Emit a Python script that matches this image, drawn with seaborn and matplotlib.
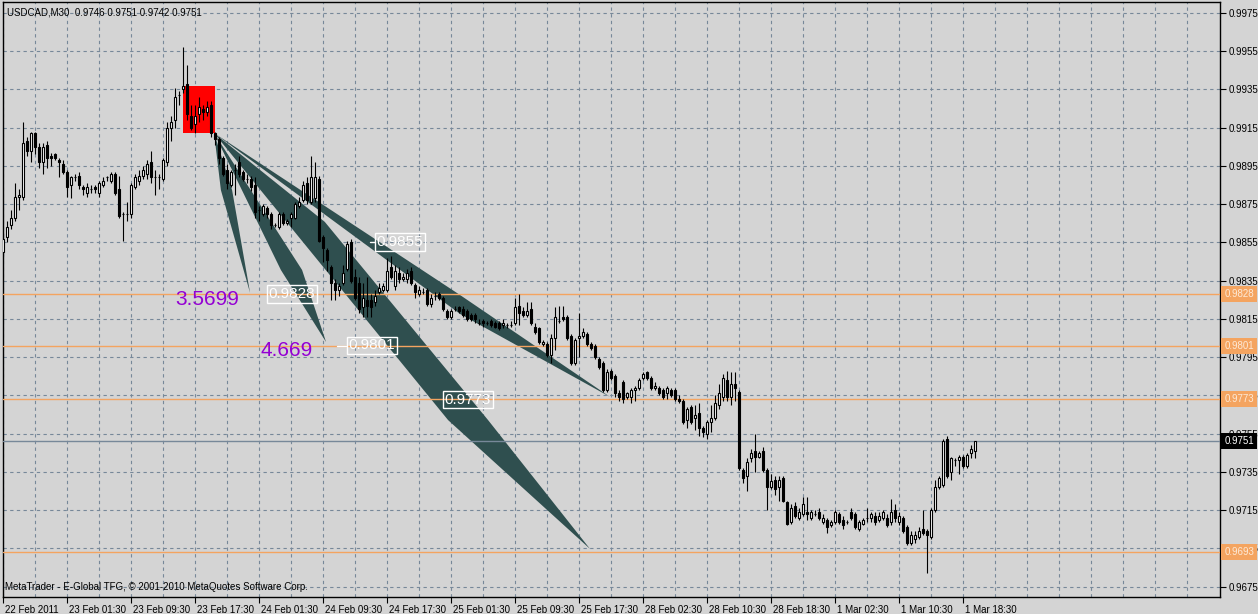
import numpy as np
import pandas as pd
import matplotlib
matplotlib.use('Agg')
import matplotlib.pyplot as plt
import matplotlib.transforms as mtransforms
from matplotlib.patches import Polygon, Rectangle
import seaborn as sns

# velas M30 USDCAD (open, high, low, close), uma por barra
opens = [0.9850, 0.9858, 0.9864, 0.9868, 0.9879, 0.9879, 0.9908, 0.9903, 0.9912, 0.9905,
         0.9897, 0.9906, 0.9900, 0.9901, 0.9898, 0.9896, 0.9892, 0.9885, 0.9889, 0.9890,
         0.9884, 0.9881, 0.9883, 0.9884, 0.9881, 0.9885, 0.9889, 0.9887, 0.9891, 0.9883,
         0.9870, 0.9870, 0.9870, 0.9884, 0.9887, 0.9890, 0.9891, 0.9897, 0.9889, 0.9889,
         0.9888, 0.9897, 0.9915, 0.9919, 0.9932, 0.9935, 0.9938, 0.9921, 0.9917, 0.9922,
         0.9925, 0.9923, 0.9927, 0.9912, 0.9909, 0.9899, 0.9893, 0.9885, 0.9893, 0.9897,
         0.9892, 0.9888, 0.9888, 0.9885, 0.9872, 0.9870, 0.9873, 0.9870, 0.9864, 0.9863,
         0.9870, 0.9865, 0.9868, 0.9868, 0.9874, 0.9877, 0.9886, 0.9876, 0.9878, 0.9888,
         0.9858, 0.9851, 0.9842, 0.9834, 0.9830, 0.9834, 0.9841, 0.9855, 0.9837, 0.9834,
         0.9821, 0.9825, 0.9825, 0.9824, 0.9829, 0.9830, 0.9830, 0.9842, 0.9832, 0.9839,
         0.9836, 0.9836, 0.9840, 0.9833, 0.9828, 0.9829, 0.9830, 0.9823, 0.9827, 0.9828,
         0.9826, 0.9819, 0.9816, 0.9820, 0.9821, 0.9820, 0.9819, 0.9817, 0.9817, 0.9813,
         0.9814, 0.9813, 0.9814, 0.9813, 0.9813, 0.9812, 0.9812, 0.9812, 0.9813, 0.9822,
         0.9819, 0.9817, 0.9820, 0.9811, 0.9810, 0.9802, 0.9802, 0.9796, 0.9805, 0.9814,
         0.9816, 0.9816, 0.9806, 0.9792, 0.9805, 0.9806, 0.9807, 0.9802, 0.9801, 0.9794,
         0.9792, 0.9778, 0.9788, 0.9785, 0.9776, 0.9782, 0.9774, 0.9774, 0.9778, 0.9779,
         0.9784, 0.9787, 0.9784, 0.9779, 0.9779, 0.9778, 0.9776, 0.9778, 0.9778, 0.9773,
         0.9772, 0.9762, 0.9769, 0.9763, 0.9766, 0.9758, 0.9755, 0.9761, 0.9763, 0.9770,
         0.9774, 0.9783, 0.9774, 0.9781, 0.9777, 0.9736, 0.9733, 0.9742, 0.9746, 0.9743,
         0.9746, 0.9736, 0.9727, 0.9731, 0.9727, 0.9732, 0.9719, 0.9709, 0.9717, 0.9711,
         0.9713, 0.9714, 0.9711, 0.9713, 0.9714, 0.9709, 0.9710, 0.9707, 0.9709, 0.9713,
         0.9710, 0.9709, 0.9714, 0.9713, 0.9705, 0.9708, 0.9711, 0.9711, 0.9712, 0.9710,
         0.9711, 0.9711, 0.9709, 0.9715, 0.9709, 0.9711, 0.9706, 0.9698, 0.9700, 0.9701,
         0.9705, 0.9704, 0.9701, 0.9715, 0.9727, 0.9728, 0.9752, 0.9735, 0.9741, 0.9741,
         0.9743, 0.9738, 0.9745, 0.9746]
highs = [0.9860, 0.9866, 0.9872, 0.9886, 0.9883, 0.9918, 0.9910, 0.9913, 0.9913, 0.9907,
         0.9907, 0.9908, 0.9902, 0.9902, 0.9899, 0.9898, 0.9893, 0.9890, 0.9891, 0.9892,
         0.9885, 0.9886, 0.9885, 0.9885, 0.9887, 0.9889, 0.9890, 0.9892, 0.9892, 0.9890,
         0.9871, 0.9876, 0.9886, 0.9891, 0.9893, 0.9895, 0.9898, 0.9903, 0.9893, 0.9891,
         0.9899, 0.9918, 0.9921, 0.9936, 0.9934, 0.9957, 0.9948, 0.9927, 0.9927, 0.9931,
         0.9927, 0.9929, 0.9929, 0.9913, 0.9910, 0.9900, 0.9896, 0.9893, 0.9896, 0.9900,
         0.9893, 0.9891, 0.9890, 0.9889, 0.9874, 0.9875, 0.9874, 0.9871, 0.9865, 0.9871,
         0.9871, 0.9867, 0.9871, 0.9876, 0.9879, 0.9887, 0.9889, 0.9900, 0.9897, 0.9890,
         0.9859, 0.9852, 0.9843, 0.9836, 0.9834, 0.9843, 0.9856, 0.9857, 0.9841, 0.9837,
         0.9834, 0.9837, 0.9828, 0.9830, 0.9834, 0.9834, 0.9847, 0.9848, 0.9843, 0.9842,
         0.9839, 0.9841, 0.9842, 0.9834, 0.9832, 0.9831, 0.9831, 0.9828, 0.9829, 0.9829,
         0.9827, 0.9820, 0.9820, 0.9822, 0.9822, 0.9822, 0.9820, 0.9818, 0.9818, 0.9815,
         0.9815, 0.9814, 0.9815, 0.9814, 0.9814, 0.9815, 0.9813, 0.9814, 0.9826, 0.9828,
         0.9821, 0.9824, 0.9824, 0.9813, 0.9811, 0.9804, 0.9803, 0.9807, 0.9821, 0.9822,
         0.9822, 0.9817, 0.9807, 0.9805, 0.9818, 0.9810, 0.9808, 0.9803, 0.9802, 0.9795,
         0.9793, 0.9789, 0.9789, 0.9786, 0.9778, 0.9783, 0.9777, 0.9779, 0.9780, 0.9784,
         0.9787, 0.9788, 0.9785, 0.9782, 0.9780, 0.9779, 0.9780, 0.9779, 0.9779, 0.9775,
         0.9773, 0.9769, 0.9770, 0.9770, 0.9771, 0.9759, 0.9762, 0.9770, 0.9775, 0.9781,
         0.9786, 0.9788, 0.9787, 0.9787, 0.9778, 0.9737, 0.9742, 0.9747, 0.9755, 0.9746,
         0.9748, 0.9737, 0.9734, 0.9733, 0.9733, 0.9733, 0.9720, 0.9718, 0.9719, 0.9716,
         0.9722, 0.9722, 0.9715, 0.9715, 0.9716, 0.9713, 0.9711, 0.9710, 0.9715, 0.9714,
         0.9712, 0.9710, 0.9716, 0.9714, 0.9710, 0.9711, 0.9716, 0.9714, 0.9714, 0.9714,
         0.9715, 0.9713, 0.9721, 0.9718, 0.9714, 0.9712, 0.9707, 0.9704, 0.9704, 0.9706,
         0.9715, 0.9705, 0.9716, 0.9731, 0.9733, 0.9752, 0.9754, 0.9743, 0.9742, 0.9744,
         0.9744, 0.9745, 0.9749, 0.9751]
lows = [0.9848, 0.9855, 0.9862, 0.9866, 0.9872, 0.9877, 0.9900, 0.9897, 0.9901, 0.9894,
        0.9891, 0.9894, 0.9895, 0.9898, 0.9889, 0.9891, 0.9879, 0.9878, 0.9887, 0.9883,
        0.9880, 0.9879, 0.9881, 0.9881, 0.9879, 0.9884, 0.9887, 0.9886, 0.9880, 0.9868,
        0.9856, 0.9866, 0.9868, 0.9883, 0.9885, 0.9888, 0.9888, 0.9886, 0.9880, 0.9883,
        0.9887, 0.9895, 0.9908, 0.9915, 0.9927, 0.9933, 0.9919, 0.9914, 0.9912, 0.9918,
        0.9919, 0.9921, 0.9910, 0.9906, 0.9896, 0.9890, 0.9883, 0.9884, 0.9880, 0.9889,
        0.9887, 0.9886, 0.9882, 0.9868, 0.9866, 0.9869, 0.9868, 0.9862, 0.9863, 0.9862,
        0.9864, 0.9864, 0.9863, 0.9867, 0.9873, 0.9876, 0.9875, 0.9875, 0.9876, 0.9855,
        0.9845, 0.9840, 0.9825, 0.9825, 0.9827, 0.9833, 0.9840, 0.9834, 0.9825, 0.9818,
        0.9816, 0.9816, 0.9816, 0.9822, 0.9828, 0.9829, 0.9829, 0.9836, 0.9830, 0.9834,
        0.9835, 0.9834, 0.9833, 0.9826, 0.9827, 0.9828, 0.9822, 0.9821, 0.9825, 0.9825,
        0.9819, 0.9815, 0.9815, 0.9819, 0.9818, 0.9816, 0.9814, 0.9814, 0.9813, 0.9812,
        0.9811, 0.9812, 0.9811, 0.9810, 0.9809, 0.9810, 0.9810, 0.9811, 0.9812, 0.9812,
        0.9816, 0.9816, 0.9812, 0.9807, 0.9802, 0.9801, 0.9795, 0.9792, 0.9799, 0.9813,
        0.9814, 0.9804, 0.9791, 0.9791, 0.9795, 0.9805, 0.9801, 0.9799, 0.9794, 0.9789,
        0.9777, 0.9777, 0.9783, 0.9774, 0.9772, 0.9771, 0.9773, 0.9771, 0.9772, 0.9778,
        0.9783, 0.9783, 0.9778, 0.9778, 0.9775, 0.9773, 0.9773, 0.9774, 0.9772, 0.9771,
        0.9760, 0.9758, 0.9760, 0.9757, 0.9754, 0.9753, 0.9752, 0.9756, 0.9762, 0.9768,
        0.9772, 0.9772, 0.9770, 0.9772, 0.9736, 0.9729, 0.9725, 0.9740, 0.9735, 0.9742,
        0.9735, 0.9715, 0.9726, 0.9723, 0.9720, 0.9719, 0.9707, 0.9708, 0.9711, 0.9710,
        0.9712, 0.9710, 0.9710, 0.9712, 0.9710, 0.9708, 0.9703, 0.9706, 0.9708, 0.9708,
        0.9705, 0.9708, 0.9710, 0.9705, 0.9704, 0.9707, 0.9709, 0.9709, 0.9707, 0.9709,
        0.9710, 0.9706, 0.9707, 0.9709, 0.9707, 0.9703, 0.9697, 0.9697, 0.9698, 0.9700,
        0.9702, 0.9682, 0.9700, 0.9714, 0.9726, 0.9727, 0.9732, 0.9731, 0.9738, 0.9734,
        0.9737, 0.9737, 0.9742, 0.9742]
closes = [0.9857, 0.9863, 0.9868, 0.9879, 0.9880, 0.9907, 0.9903, 0.9912, 0.9905, 0.9897,
          0.9905, 0.9899, 0.9899, 0.9899, 0.9897, 0.9892, 0.9884, 0.9889, 0.9889, 0.9885,
          0.9883, 0.9884, 0.9883, 0.9883, 0.9886, 0.9887, 0.9889, 0.9891, 0.9881, 0.9869,
          0.9870, 0.9870, 0.9885, 0.9889, 0.9890, 0.9893, 0.9896, 0.9889, 0.9889, 0.9889,
          0.9898, 0.9915, 0.9918, 0.9931, 0.9932, 0.9937, 0.9922, 0.9915, 0.9921, 0.9926,
          0.9923, 0.9926, 0.9912, 0.9909, 0.9899, 0.9891, 0.9886, 0.9892, 0.9893, 0.9891,
          0.9888, 0.9888, 0.9884, 0.9871, 0.9872, 0.9874, 0.9870, 0.9864, 0.9864, 0.9870,
          0.9865, 0.9866, 0.9870, 0.9875, 0.9876, 0.9885, 0.9877, 0.9889, 0.9889, 0.9856,
          0.9852, 0.9846, 0.9834, 0.9830, 0.9832, 0.9839, 0.9854, 0.9835, 0.9826, 0.9820,
          0.9826, 0.9822, 0.9821, 0.9827, 0.9831, 0.9832, 0.9840, 0.9837, 0.9840, 0.9836,
          0.9837, 0.9839, 0.9834, 0.9829, 0.9830, 0.9829, 0.9823, 0.9826, 0.9827, 0.9826,
          0.9820, 0.9816, 0.9819, 0.9820, 0.9819, 0.9817, 0.9815, 0.9815, 0.9815, 0.9813,
          0.9813, 0.9813, 0.9812, 0.9811, 0.9810, 0.9813, 0.9812, 0.9812, 0.9821, 0.9818,
          0.9817, 0.9819, 0.9813, 0.9808, 0.9803, 0.9803, 0.9796, 0.9805, 0.9816, 0.9814,
          0.9815, 0.9805, 0.9792, 0.9804, 0.9806, 0.9808, 0.9802, 0.9800, 0.9795, 0.9790,
          0.9778, 0.9787, 0.9784, 0.9776, 0.9774, 0.9773, 0.9776, 0.9778, 0.9779, 0.9783,
          0.9786, 0.9784, 0.9779, 0.9780, 0.9776, 0.9774, 0.9779, 0.9775, 0.9773, 0.9772,
          0.9761, 0.9768, 0.9761, 0.9765, 0.9758, 0.9756, 0.9761, 0.9763, 0.9771, 0.9776,
          0.9784, 0.9774, 0.9781, 0.9779, 0.9737, 0.9732, 0.9740, 0.9745, 0.9743, 0.9745,
          0.9736, 0.9727, 0.9730, 0.9726, 0.9731, 0.9720, 0.9708, 0.9716, 0.9712, 0.9714,
          0.9718, 0.9713, 0.9714, 0.9713, 0.9711, 0.9711, 0.9706, 0.9709, 0.9714, 0.9709,
          0.9707, 0.9709, 0.9711, 0.9706, 0.9709, 0.9710, 0.9711, 0.9713, 0.9709, 0.9712,
          0.9714, 0.9707, 0.9714, 0.9711, 0.9712, 0.9704, 0.9698, 0.9702, 0.9702, 0.9704,
          0.9703, 0.9702, 0.9715, 0.9727, 0.9732, 0.9751, 0.9733, 0.9742, 0.9741, 0.9743,
          0.9738, 0.9744, 0.9747, 0.9751]

# eixo de tempo (barra -> rótulo)
tick_bars = list(range(0, 241, 16))
tick_labels = ['22 Feb 2011', '23 Feb 01:30', '23 Feb 09:30', '23 Feb 17:30',
               '24 Feb 01:30', '24 Feb 09:30', '24 Feb 17:30', '25 Feb 01:30',
               '25 Feb 09:30', '25 Feb 17:30', '28 Feb 02:30', '28 Feb 10:30',
               '28 Feb 18:30', '1 Mar 02:30', '1 Mar 10:30', '1 Mar 18:30']

# níveis horizontais
level_prices = [0.9828, 0.9801, 0.9773, 0.9693]
last_price = 0.9751

# leques (vértices em barra, preço)
wedge_a_x = [52.7, 54.4, 61.7, 57.2]
wedge_a_y = [0.99122, 0.98824, 0.98286, 0.98824]
wedge_b_x = [52.7, 69.4, 80.7, 74.7]
wedge_b_y = [0.99122, 0.98406, 0.98029, 0.98406]
wedge_c_x = [52.7, 111.2, 146.7, 121.2, 80.4]
wedge_c_y = [0.99122, 0.97621, 0.96947, 0.97621, 0.98657]
wedge_d_x = [52.7, 114.2, 151.7, 114.2]
wedge_d_y = [0.99122, 0.98275, 0.97742, 0.98176]

# retângulo vermelho
rect_x = [44.9, 52.9]
rect_y = [0.99122, 0.99368]

# caixas de texto dos níveis
box_texts = ['0.9855', '0.9828', '0.9801', '0.9773']
box_x = [99.2, 72.2, 92.1, 116.2]
box_y = [0.98552, 0.98280, 0.98011, 0.97728]
stub_x = [[91.7, 92.95], [83.4, 85.7]]
stub_y = [0.98552, 0.98006]

# constantes de Feigenbaum
feig_texts = ['3.5699', '4.669']
feig_x = [51.0, 70.9]
feig_y = [0.98249, 0.97987]

# estilo
bg = '#d4d4d4'
sns.set_style('ticks', {'axes.facecolor': bg, 'figure.facecolor': bg,
                        'axes.edgecolor': 'black'})
plt.rcParams['font.family'] = ['Liberation Sans', 'DejaVu Sans']

fig = plt.figure(figsize=(12.58, 6.14), dpi=100)
ax = fig.add_axes([2.5 / 1258, 17 / 614, 1217.5 / 1258, 595 / 614])

df = pd.DataFrame({'open': opens, 'high': highs, 'low': lows, 'close': closes})
df['bar'] = np.arange(len(df))
up = df['close'] > df['open']

# pavios e corpos
ax.vlines(df['bar'], df['low'], df['high'], color='black', lw=0.8, zorder=4)
ax.bar(df['bar'][up], (df['close'] - df['open'])[up], bottom=df['open'][up],
       width=0.55, color='white', edgecolor='black', lw=0.8, zorder=5)
ax.bar(df['bar'][~up], (df['open'] - df['close'])[~up], bottom=df['close'][~up],
       width=0.55, color='black', edgecolor='black', lw=0.8, zorder=5)

# retângulo e leques
ax.add_patch(Rectangle((rect_x[0], rect_y[0]), rect_x[1] - rect_x[0], rect_y[1] - rect_y[0],
                       facecolor='red', edgecolor='none', zorder=2))
for wx, wy in [(wedge_a_x, wedge_a_y), (wedge_b_x, wedge_b_y),
               (wedge_c_x, wedge_c_y), (wedge_d_x, wedge_d_y)]:
    ax.add_patch(Polygon(np.column_stack([wx, wy]), closed=True,
                         facecolor='#2f4f4f', edgecolor='none', zorder=2))

# linhas horizontais
for p in level_prices:
    ax.axhline(p, color='#f4a460', lw=1, zorder=3)
ax.axhline(last_price, color='#778899', lw=1, zorder=3)

# textos
for t, x, y in zip(box_texts, box_x, box_y):
    ax.text(x, y, t, color='white', fontsize=11, ha='center', va='center', zorder=7,
            bbox=dict(facecolor='none', edgecolor='white', lw=1, boxstyle='square,pad=0.12'))
for sx, sy in zip(stub_x, stub_y):
    ax.plot(sx, [sy, sy], color='white', lw=1, zorder=6)
for t, x, y in zip(feig_texts, feig_x, feig_y):
    ax.text(x, y, t, color='#9400d3', fontsize=15, ha='center', va='center', zorder=7)

ax.text(0.0037, 0.983, 'USDCAD,M30  0.9746 0.9751 0.9742 0.9751', transform=ax.transAxes,
        fontsize=7, ha='left', va='center', color='black')
ax.text(0.002, 0.016, 'MetaTrader - E-Global TFG, \u00a9 2001-2010 MetaQuotes Software Corp.',
        transform=ax.transAxes, fontsize=7, ha='left', va='center', color='black')

# eixos
ax.set_xlim(-0.2, 304.2)
ax.set_ylim(0.966956, 0.998075)
ax.yaxis.tick_right()
yt = np.arange(0.9675, 0.99751, 0.002)
ax.set_yticks(yt)
ax.set_yticklabels(['%.4f' % v for v in yt])
ax.set_xticks(tick_bars)
ax.set_xticklabels(tick_labels, ha='left')
ax.set_xticks(range(8, 304, 8), minor=True)
ax.tick_params(axis='both', which='major', direction='out', length=4, width=0.8,
               labelsize=7, pad=2, colors='black')
ax.tick_params(axis='x', which='minor', length=0)
ax.grid(True, which='both', color='#778899', ls=(0, (3, 3)), lw=0.8, zorder=1)
ax.set_axisbelow(True)
for s in ax.spines.values():
    s.set_linewidth(1)
    s.set_color('black')

# desloca um pouco os rótulos de data para a direita do traço
shift = mtransforms.ScaledTranslation(2 / 100, 0, fig.dpi_scale_trans)
for lbl in ax.get_xticklabels():
    lbl.set_transform(lbl.get_transform() + shift)

# rótulos de preço no eixo direito
blend = mtransforms.blended_transform_factory(ax.transAxes, ax.transData)
for p in level_prices:
    ax.text(1.0035, p, '%.4f' % p, transform=blend, fontsize=7, ha='left', va='center',
            color='#fde9d6', zorder=8, clip_on=False,
            bbox=dict(facecolor='#f4a460', edgecolor='none', boxstyle='square,pad=0.3'))
ax.text(1.0035, last_price, '%.4f' % last_price, transform=blend, fontsize=7, ha='left',
        va='center', color='white', zorder=8, clip_on=False,
        bbox=dict(facecolor='black', edgecolor='none', boxstyle='square,pad=0.3'))

fig.savefig('out.png', dpi=100, facecolor=bg)
